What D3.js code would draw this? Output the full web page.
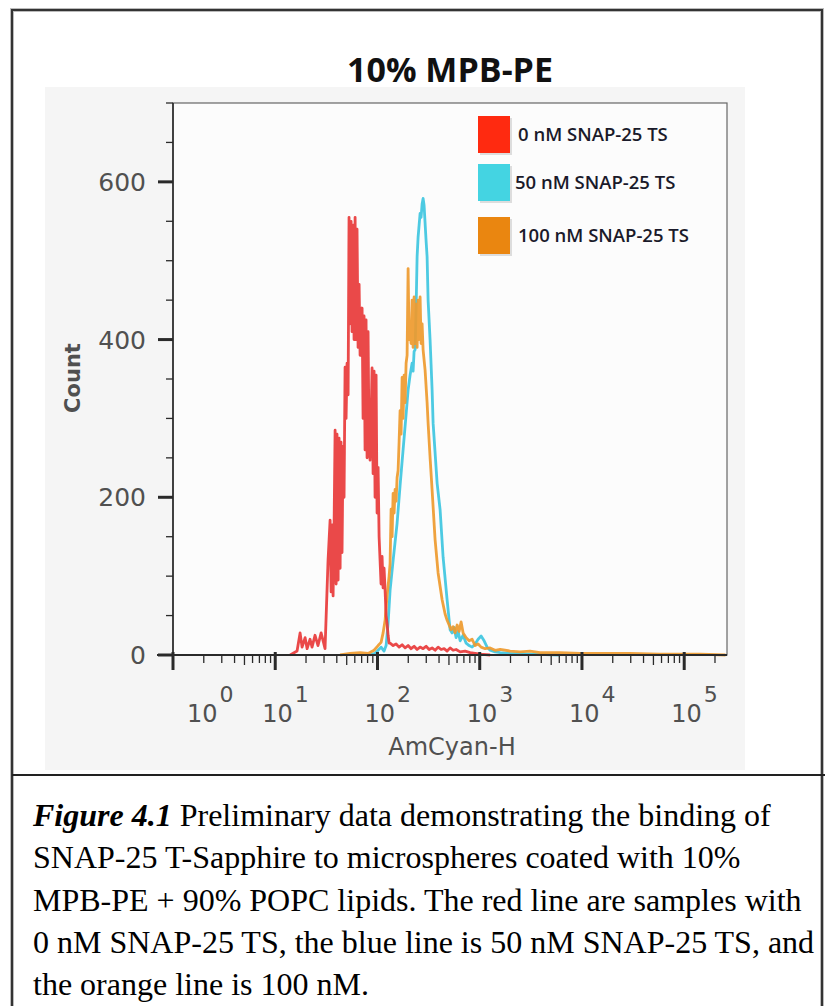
<!DOCTYPE html>
<html><head><meta charset="utf-8">
<script src="https://cdn.jsdelivr.net/npm/d3@7"></script>
<style>body{margin:0;background:#fff}svg{display:block}</style>
</head><body>
<svg id="c" width="825" height="1006"></svg>
<script>
// ---------- data ----------
const chartTitle = "10% MPB-PE";
const xAxisLabel = "AmCyan-H";
const yAxisLabel = "Count";
const seriesNames = ["0 nM SNAP-25 TS", "50 nM SNAP-25 TS", "100 nM SNAP-25 TS"];
const seriesColors = ["#e83a3a", "#3ec6e0", "#ee9a2e"];
const legendColors = ["#ff2a10", "#44d4e2", "#ea8610"];
const yTicks = [0, 200, 400, 600];
const yMinorTicks = [50, 100, 150, 250, 300, 350, 450, 500, 550, 650, 700];
const xDecades = [1, 10, 100, 1000, 10000, 100000];
const xDecadeExponents = ["0", "1", "2", "3", "4", "5"];
const minorMultipliers = [2, 3, 4, 5, 6, 7, 8, 9];

// [AmCyan-H, count]
const red0nM = [[14.0,0],[16.35,5],[17.5,28],[18.3,10],[19.6,22],[20.5,8],[21.9,20],[22.9,10],[24.5,25],[26.2,12],[28.1,28],[29.4,18],[30.7,8],
[32.85,120],[34.4,171],[35.2,80],[36.0,165],[36.8,75],[37.6,160],[38.5,285],
[39.4,90],[40.2,280],[41.2,95],[42.1,275],[43.1,110],[44.0,270],[45.0,130],[46.1,265],[47.1,200],[48.2,365],
[49.3,300],[50.4,370],[51.6,330],[52.7,555],[53.9,420],[55.2,550],[56.4,410],[57.7,545],[59.0,400],[60.4,555],
[61.7,400],[63.1,540],[64.6,390],[66.1,470],[67.6,380],[69.1,430],[70.7,440],[72.3,300],[73.9,430],[75.6,260],
[77.3,425],[79.1,250],[80.9,410],[82.7,270],[84.6,247],[86.6,300],[88.5,364],[90.6,230],[92.6,360],[94.7,200],
[96.9,355],[99.1,180],[101.4,238],[103.7,150],[106.0,120],[108.4,90],[110.9,125],[113.5,85],[116.0,110],[118.7,82],
[121.4,50],[124.1,40],[127.0,25],[129.9,15],[132.8,15],[142.2,12],[152.1,14],[162.7,10],[174.1,13],[186.2,9],
[199.3,12],[213.2,8],[228.1,11],[244.1,7],[261.1,10],[279.4,8],[298.9,11],[319.8,7],[342.2,9],[366.1,6],
[391.7,10],[419.1,7],[448.4,8],[479.8,5],[513.3,9],[549.2,6],[587.6,7],[643,4],[719.7,5],[805.5,3],
[901.6,2],[1009,1],[1264,0]];

const cyan50nM = [[84.6,0],[94.7,2],[101.4,6],[108.4,10],[116.0,5],[121.4,12],[127.0,40],[132.8,82],[142.2,120],[155.5,167],
[166.4,215],[178.0,260],[190.5,305],[199.3,336],[208.4,355],[218.0,370],[223.0,360],[228.1,385],[233.3,387],[238.6,440],
[244.1,505],[249.6,530],[261.1,560],[267.1,555],[273.2,572],[279.4,579],[285.7,570],[292.3,547],[298.9,525],[305.7,505],
[312.7,450],[327.1,399],[342.2,336],[350.0,294],[383.0,218],[409.8,184],[438.4,124],[479.8,70],[513.3,32],[537.0,28],
[561.7,35],[587.6,22],[614.7,30],[643.0,18],[688.0,25],[736.1,15],[787.6,12],[842.6,10],[901.6,14],[964.5,20],
[1032,24],[1104,18],[1181,10],[1264,6],[1414,4],[1585,3],[1984,2],[3107,1],[6090,0]];

const orange100nM = [[43.1,0],[53.9,2],[67.6,3],[80.9,2],[92.6,6],[101.4,12],[108.4,16],[113.5,28],[118.7,44],[124.1,75],
[129.9,100],[132.8,116],[135.9,185],[139.0,150],[142.2,205],[145.4,180],[148.7,210],[152.1,195],[155.5,225],[159.1,234],
[162.7,270],[166.4,310],[170.2,280],[174.1,352],[178.0,300],[182.1,355],[186.2,320],[190.5,370],[194.8,380],[199.3,490],
[203.8,400],[208.4,412],[213.2,395],[218.0,450],[223.0,390],[228.1,454],[233.3,395],[238.6,445],[244.1,390],[249.6,450],
[255.3,400],[261.1,454],[267.1,395],[273.2,420],[279.4,387],[292.3,361],[305.7,320],[312.7,294],[327.1,250],[342.2,209],
[366.1,146],[391.7,104],[428.7,70],[458.6,52],[479.8,44],[501.9,38],[525.0,32],[549.2,36],[574.5,28],[601.0,38],
[628.7,30],[657.7,42],[688.0,28],[736.1,22],[787.6,18],[842.6,20],[901.6,12],[964.5,14],[1032,10],[1129,8],
[1264,9],[1414,6],[1585,7],[1984,5],[2483,4],[3107,5],[3888,3],[6090,3],[9537,2],[14940,2],
[29330,2],[57560,1],[143500,1],[253000,0]];

const captionLead = "Figure 4.1";
const captionLines = [
  " Preliminary data demonstrating the binding of",
  "SNAP-25 T-Sapphire to microspheres coated with 10%",
  "MPB-PE + 90% POPC lipids. The red line are samples with",
  "0 nM SNAP-25 TS, the blue line is 50 nM SNAP-25 TS, and",
  "the orange line is 100 nM."
];

// ---------- drawing ----------
const svg = d3.select("#c");
const x = d3.scaleLog().domain([1, 262144]).range([173, 727]);
const y = d3.scaleLinear().domain([0, 700]).range([655, 103]);

// outer frame
svg.append("rect").attr("x", 12).attr("y", 10).attr("width", 810).attr("height", 1010)
  .attr("fill", "none").attr("stroke", "#bbb").attr("stroke-width", 4);
svg.append("rect").attr("x", 12).attr("y", 10).attr("width", 810).attr("height", 1010)
  .attr("fill", "none").attr("stroke", "#333").attr("stroke-width", 2);
svg.append("line").attr("x1", 12).attr("x2", 825).attr("y1", 775).attr("y2", 775)
  .attr("stroke", "#222").attr("stroke-width", 2);

// panel
svg.append("rect").attr("x", 45).attr("y", 87).attr("width", 700).attr("height", 683).attr("fill", "#f5f5f5");
svg.append("rect").attr("x", x.range()[0]).attr("y", y(700)).attr("width", x.range()[1] - x.range()[0])
  .attr("height", y(0) - y(700)).attr("fill", "#fcfcfc").attr("stroke", "#666").attr("stroke-width", 1.2);

// title
svg.append("text").attr("x", 450).attr("y", 82).attr("text-anchor", "middle")
  .attr("font-family", "'Open Sans', sans-serif").attr("font-weight", 700).attr("font-size", 34)
  .attr("fill", "#111").text(chartTitle);

// series lines
const line = d3.line().x(d => x(d[0])).y(d => y(d[1]));
const series = [cyan50nM, orange100nM, red0nM];
const seriesColorIdx = [1, 2, 0];
series.forEach((s, i) => {
  svg.append("path").datum(s).attr("d", line).attr("fill", "none")
    .attr("stroke", seriesColors[seriesColorIdx[i]]).attr("stroke-width", 2.8)
    .attr("stroke-linejoin", "round").attr("opacity", 0.92);
});

// axes
const axisColor = "#2a2a2a";
const g = svg.append("g");
g.append("line").attr("x1", x(1)).attr("x2", x(1)).attr("y1", y(700)).attr("y2", y(0) + 8)
  .attr("stroke", axisColor).attr("stroke-width", 1.6);
g.append("line").attr("x1", x(1) - 16).attr("x2", x.range()[1]).attr("y1", y(0)).attr("y2", y(0))
  .attr("stroke", axisColor).attr("stroke-width", 1.8);
yTicks.forEach(t => {
  g.append("line").attr("x1", x(1) - 15).attr("x2", x(1)).attr("y1", y(t)).attr("y2", y(t))
    .attr("stroke", axisColor).attr("stroke-width", 3);
  g.append("text").attr("x", x(1) - 27).attr("y", y(t)).attr("dy", "0.36em").attr("text-anchor", "end")
    .attr("font-family", "'DejaVu Sans', sans-serif").attr("font-size", 25).attr("fill", "#505050").text(t);
});
yMinorTicks.forEach(t => {
  g.append("line").attr("x1", x(1) - 7).attr("x2", x(1)).attr("y1", y(t)).attr("y2", y(t))
    .attr("stroke", axisColor).attr("stroke-width", 1.3);
});
xDecades.forEach((d, i) => {
  g.append("line").attr("x1", x(d)).attr("x2", x(d)).attr("y1", y(0) - 3).attr("y2", y(0) + 15)
    .attr("stroke", axisColor).attr("stroke-width", 3);
  const t = g.append("text").attr("x", x(d) + (i === 0 ? 14 : -13)).attr("y", 722)
    .attr("font-family", "'DejaVu Sans', sans-serif").attr("font-size", 24).attr("fill", "#505050");
  t.append("tspan").text("10");
  t.append("tspan").attr("dy", -20).attr("dx", 2).attr("font-size", 22).text(xDecadeExponents[i]);
  minorMultipliers.forEach(m => {
    const v = d * m;
    if (v <= x.domain()[1]) {
      g.append("line").attr("x1", x(v)).attr("x2", x(v)).attr("y1", y(0)).attr("y2", y(0) + (m === 5 ? 10 : 8))
        .attr("stroke", axisColor).attr("stroke-width", 1.3);
    }
  });
});

// axis titles
svg.append("text").attr("x", 452).attr("y", 755).attr("text-anchor", "middle")
  .attr("font-family", "'DejaVu Sans', sans-serif").attr("font-size", 24).attr("fill", "#505050").text(xAxisLabel);
svg.append("text").attr("transform", "translate(80,378) rotate(-90)").attr("text-anchor", "middle")
  .attr("font-family", "'DejaVu Sans', sans-serif").attr("font-weight", 700).attr("font-size", 21)
  .attr("fill", "#505050").text(yAxisLabel);

// legend
const legendY = [116, 164, 217];
const legendTextX = [518, 515, 518];
seriesNames.forEach((n, i) => {
  svg.append("rect").attr("x", 480).attr("y", legendY[i] + 2).attr("width", 32).attr("height", 37)
    .attr("fill", "#000").attr("opacity", 0.12);
  svg.append("rect").attr("x", 478).attr("y", legendY[i]).attr("width", 32).attr("height", 37)
    .attr("fill", legendColors[i]);
  svg.append("text").attr("x", legendTextX[i]).attr("y", legendY[i] + 25)
    .attr("font-family", "'Open Sans', sans-serif").attr("font-weight", 600).attr("font-size", 18.5)
    .attr("fill", "#1a1a2a").text(n);
});

// caption
const capX = 33, capY0 = 826, capDy = 42.3;
captionLines.forEach((l, i) => {
  const t = svg.append("text").attr("x", capX).attr("y", capY0 + i * capDy)
    .attr("font-family", "'Liberation Serif', 'Times New Roman', serif").attr("font-size", 32).attr("fill", "#000");
  if (i === 0) t.append("tspan").attr("font-weight", 700).attr("font-style", "italic").text(captionLead);
  t.append("tspan").text(l);
});
</script>
</body></html>
